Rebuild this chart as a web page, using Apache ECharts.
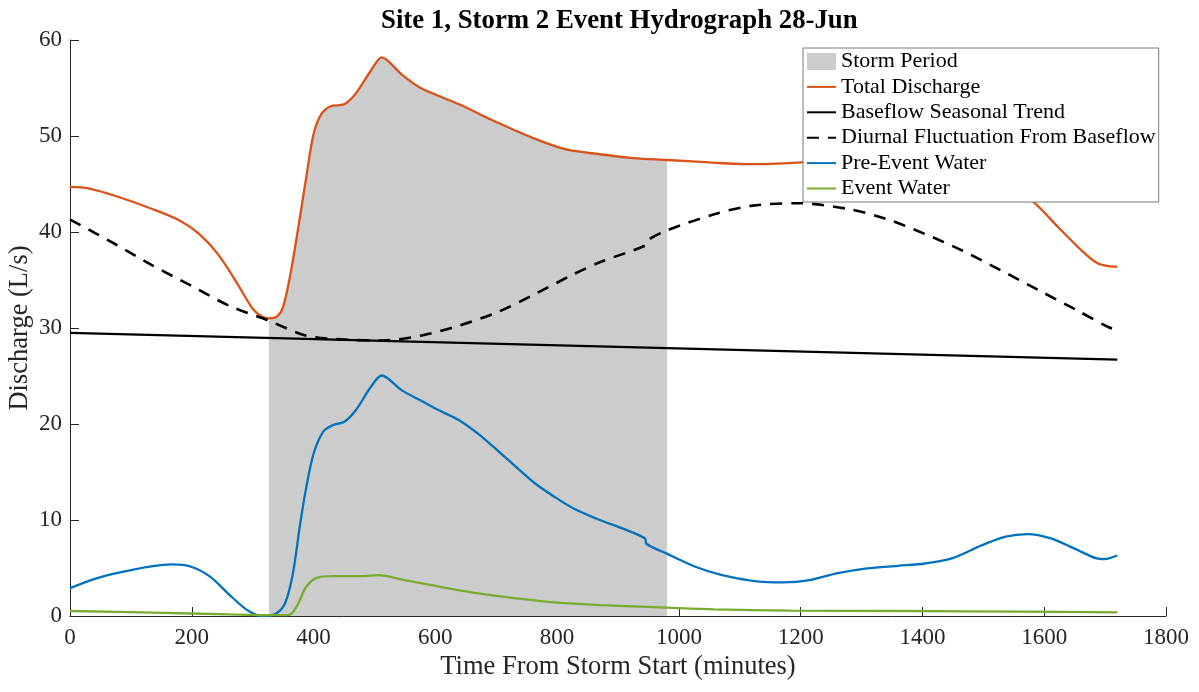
<!DOCTYPE html>
<html>
<head>
<meta charset="utf-8">
<title>Site 1, Storm 2 Event Hydrograph</title>
<script src="https://cdn.jsdelivr.net/npm/echarts@6/dist/echarts.min.js"></script>
<style>
  html, body { margin: 0; padding: 0; background: #fff; }
  #chart { width: 1199px; height: 692px; }
</style>
</head>
<body>
<div id="chart"></div>
<script>
// Storm window (minutes from storm start)
const stormStart = 327;
const stormEnd = 980;

// Total discharge (L/s)
const totalTime = [0, 30, 75, 135, 180, 212, 243, 275, 300, 315, 327, 340, 350, 362, 375, 388, 400, 413, 428, 450,
  469, 494, 512, 545, 576, 639, 702, 764, 815, 870, 925, 980, 1050, 1108, 1150, 1202, 1250, 1300, 1350, 1400,
  1450, 1500, 1550, 1579, 1623, 1661, 1686, 1705, 1720];
const totalQ = [44.7, 44.55, 43.75, 42.4, 41.2, 39.8, 37.7, 34.6, 32.0, 31.2, 31.0, 31.2, 32.2, 35.6, 40.5, 45.7, 50.2, 52.3, 53.1, 53.3,
  54.4, 56.8, 58.2, 56.4, 55.0, 53.3, 51.4, 49.7, 48.6, 48.1, 47.7, 47.5, 47.25, 47.07, 47.1, 47.25, 47.45, 47.4, 46.9, 45.9,
  45.1, 44.9, 44.0, 43.3, 40.5, 38.1, 36.8, 36.45, 36.4];

// Baseflow seasonal trend (L/s)
const baseTime = [0, 1720];
const baseQ = [29.5, 26.7];

// Diurnal fluctuation from baseflow (L/s)
const diurnalTime = [0, 74, 136, 199, 262, 325, 388, 450, 513, 576, 639, 702, 764, 827, 870, 945, 950, 980, 1058, 1121,
  1196, 1278, 1341, 1404, 1466, 1529, 1592, 1655, 1705, 1720];
const diurnalQ = [41.3, 38.75, 36.5, 34.4, 32.3, 30.8, 29.2, 28.8, 28.7, 29.2, 30.25, 31.65, 33.55, 35.6, 36.85, 38.6, 39.2, 40.15, 41.85, 42.75,
  43.0, 42.4, 41.35, 39.8, 38.05, 36.0, 33.9, 31.8, 30.1, 29.8];

// Pre-event water (L/s)
const preTime = [0, 42, 86, 136, 168, 199, 230, 262, 287, 305, 318, 337, 353, 366, 378, 388, 400, 416, 432, 450,
  469, 494, 512, 545, 576, 607, 639, 670, 702, 733, 764, 796, 827, 870, 908, 944, 947, 980, 1027, 1071,
  1121, 1171, 1215, 1259, 1309, 1360, 1404, 1448, 1498, 1535, 1573, 1611, 1649, 1686, 1699, 1720];
const preQ = [2.9, 3.9, 4.6, 5.2, 5.37, 5.13, 4.1, 2.2, 0.8, 0.15, 0.0, 0.2, 1.3, 4.4, 9.6, 13.4, 16.9, 19.2, 19.9, 20.2,
  21.4, 23.85, 25.05, 23.5, 22.45, 21.4, 20.4, 19.0, 17.25, 15.5, 13.8, 12.4, 11.2, 10.0, 9.1, 8.1, 7.5, 6.5, 5.13, 4.26,
  3.67, 3.5, 3.74, 4.43, 4.96, 5.23, 5.47, 6.0, 7.38, 8.25, 8.53, 8.08, 7.04, 6.0, 5.93, 6.3];

// Event water (L/s)
const eventTime = [0, 136, 262, 325, 359, 372, 388, 406, 432, 482, 507, 545, 607, 670, 733, 796, 870, 980, 1058, 1184,
  1372, 1560, 1720];
const eventQ = [0.52, 0.35, 0.17, 0.1, 0.1, 0.97, 3.05, 4.0, 4.16, 4.16, 4.26, 3.8, 3.05, 2.36, 1.84, 1.42, 1.14, 0.87, 0.69, 0.56,
  0.52, 0.45, 0.38];

// Axis ticks
const xTicks = [0, 200, 400, 600, 800, 1000, 1200, 1400, 1600, 1800];
const yTicks = [0, 10, 20, 30, 40, 50, 60];

const zip = (ts, vs) => ts.map((t, i) => [t, vs[i]]);

const FONT = '"Liberation Serif", "Times New Roman", serif';
const INK = '#262626';
const LW = 2.3;
const SMOOTH = 0.3;

const chart = echarts.init(document.getElementById('chart'), null, { renderer: 'canvas' });

const axisCommon = {
  type: 'value',
  axisLine: { show: true, lineStyle: { color: INK, width: 1 } },
  axisTick: { show: true, inside: true, length: 9, lineStyle: { color: INK, width: 1 } },
  splitLine: { show: false },
  nameTextStyle: { color: INK, fontFamily: FONT, fontSize: 26.5 },
  nameLocation: 'middle',
  nameMoveOverlap: false
};

chart.setOption({
  animation: false,
  backgroundColor: '#ffffff',
  title: {
    text: 'Site 1, Storm 2 Event Hydrograph 28-Jun',
    left: 376,
    top: 3,
    textStyle: { fontFamily: FONT, fontSize: 26.8, fontWeight: 'bold', color: '#000' }
  },
  grid: { left: 70, right: 33, top: 40, bottom: 76, containLabel: false, outerBoundsMode: 'none' },
  xAxis: Object.assign({}, axisCommon, {
    min: xTicks[0], max: xTicks[xTicks.length - 1], interval: xTicks[1] - xTicks[0],
    name: 'Time From Storm Start (minutes)', nameGap: 38,
    axisLabel: { color: INK, fontFamily: FONT, fontSize: 23, margin: 10, formatter: v => String(v) }
  }),
  yAxis: Object.assign({}, axisCommon, {
    min: yTicks[0], max: yTicks[yTicks.length - 1], interval: yTicks[1] - yTicks[0],
    name: 'Discharge (L/s)', nameGap: 36,
    axisLabel: { color: INK, fontFamily: FONT, fontSize: 23, margin: 8, formatter: v => String(v) }
  }),
  visualMap: {
    show: false,
    type: 'piecewise',
    seriesIndex: 0,
    dimension: 0,
    pieces: [{ gte: stormStart, lte: stormEnd, color: '#cccccc' }],
    outOfRange: { color: 'rgba(255,255,255,0)' }
  },
  legend: {
    orient: 'vertical',
    left: 803,
    top: 48,
    itemWidth: 29,
    itemHeight: 17,
    itemGap: 0.4,
    padding: [1, 3, 1, 3],
    borderColor: '#7a7a7a',
    borderWidth: 1,
    backgroundColor: '#ffffff',
    z: 10,
    selectedMode: false,
    itemStyle: { opacity: 0 },
    textStyle: { fontFamily: FONT, fontSize: 22, lineHeight: 25, color: '#000' },
    data: [
      { name: 'Storm Period', icon: 'rect', itemStyle: { color: '#cccccc', opacity: 1 } },
      { name: 'Total Discharge' },
      { name: 'Baseflow Seasonal Trend' },
      { name: 'Diurnal Fluctuation From Baseflow' },
      { name: 'Pre-Event Water' },
      { name: 'Event Water' }
    ]
  },
  series: [
    {
      name: 'Storm Period',
      type: 'line',
      data: zip(totalTime, totalQ),
      smooth: SMOOTH,
      symbol: 'none',
      lineStyle: { width: 0 },
      areaStyle: { opacity: 1 },
      z: 1,
      silent: true
    },
    {
      name: 'Total Discharge',
      type: 'line',
      data: zip(totalTime, totalQ),
      smooth: SMOOTH,
      symbol: 'none',
      itemStyle: { color: '#D95319' },
      lineStyle: { color: '#D95319', width: LW },
      z: 3
    },
    {
      name: 'Baseflow Seasonal Trend',
      type: 'line',
      data: zip(baseTime, baseQ),
      symbol: 'none',
      itemStyle: { color: '#000000' },
      lineStyle: { color: '#000000', width: LW },
      z: 3
    },
    {
      name: 'Diurnal Fluctuation From Baseflow',
      type: 'line',
      data: zip(diurnalTime, diurnalQ),
      smooth: SMOOTH,
      symbol: 'none',
      itemStyle: { color: '#000000' },
      lineStyle: { color: '#000000', width: 2.6, type: [12, 9] },
      z: 3
    },
    {
      name: 'Pre-Event Water',
      type: 'line',
      data: zip(preTime, preQ),
      smooth: SMOOTH,
      symbol: 'none',
      itemStyle: { color: '#0072BD' },
      lineStyle: { color: '#0072BD', width: LW },
      z: 3
    },
    {
      name: 'Event Water',
      type: 'line',
      data: zip(eventTime, eventQ),
      smooth: SMOOTH,
      symbol: 'none',
      itemStyle: { color: '#77AC30' },
      lineStyle: { color: '#77AC30', width: LW },
      z: 3
    }
  ]
});
</script>
</body>
</html>
